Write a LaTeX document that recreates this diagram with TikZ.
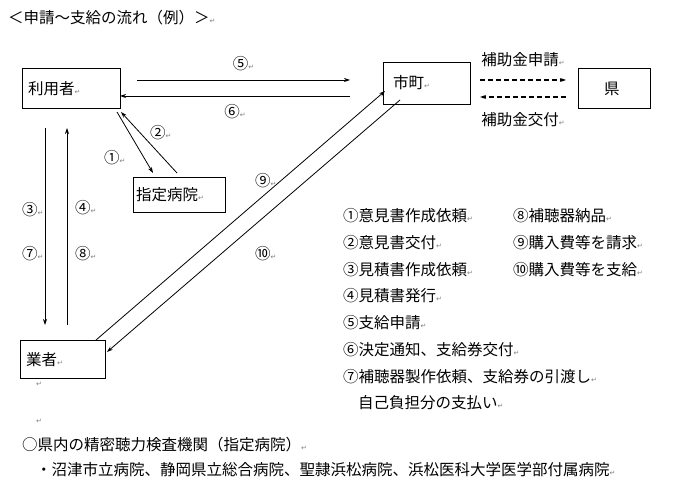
\documentclass[tikz,border=0pt]{standalone}
\usepackage{fontspec}
\setmainfont{Noto Sans CJK JP}
\newfontfamily\markfont{DejaVu Sans}
\usetikzlibrary{positioning,arrows.meta}
\newcommand{\ret}{{\markfont\color{gray}\fontsize{7}{7}\selectfont ↵}}
\begin{document}
\begin{tikzpicture}[x=1pt,y=-1pt,font=\fontsize{15.5}{17}\selectfont,
    box/.style={draw,thick,minimum height=40pt,anchor=north west,inner sep=0pt},
    lbl/.style={anchor=west,inner sep=0pt},
    flow/.style={-{Stealth[length=6pt,width=4pt]},line width=0.8pt}]
  \useasboundingbox (0,0) rectangle (690,497);
  \node[lbl] (title) at (8,18) {＜申請～支給の流れ（例）＞\ret};
  % boxes
  \node[box,minimum width=98pt] (user) at (22,68) {};
  \node[lbl] at (28,89) {利用者\ret};
  \node[box,minimum width=87pt,minimum height=42pt] (town) at (383,62) {};
  \node[lbl] at (393,83) {市町\ret};
  \node[box,minimum width=72pt] (pref) at (578,68) {};
  \node[lbl] at (604,89) {県};
  \node[box,minimum width=92pt,minimum height=35pt] (hosp) at (133,177) {};
  \node[lbl] at (136,195) {指定病院\ret};
  \node[box,minimum width=85pt,minimum height=38pt] (shop) at (20,340) {};
  \node[lbl] at (26,360) {業者\ret};
  % connectors
  \coordinate (u5) at (137,80); \coordinate (t5) at (350,80);
  \coordinate (t6) at (350,96); \coordinate (u6) at (120,96);
  \draw[flow] (u5) -- (t5) node[midway,above=5pt] {⑤\ret};
  \draw[flow] (t6) -- (u6) node[midway,below=5pt] {⑥\ret};
  \coordinate (ta) at (480,80); \coordinate (pa) at (566,80);
  \coordinate (pb) at (566,97); \coordinate (tb) at (480,97);
  \draw[flow,dash pattern=on 5pt off 3pt,line width=1.2pt] (ta) -- (pa) node[midway,above=9pt] {補助金申請\ret};
  \draw[flow,dash pattern=on 5pt off 3pt,line width=1.2pt] (pb) -- (tb) node[midway,below=12pt] {補助金交付\ret};
  \coordinate (u1) at (117,112); \coordinate (h1) at (153,173);
  \coordinate (h2) at (177,173); \coordinate (u2) at (121,112);
  \draw[flow] (u1) -- (h1);
  \draw[flow] (h2) -- (u2);
  \node[lbl] (n1) at (104,158) {①\ret};
  \node[lbl] (n2) at (150,133) {②\ret};
  \coordinate (u3) at (45,128); \coordinate (s3) at (45,325);
  \coordinate (s4) at (67,325); \coordinate (u4) at (67,128);
  \draw[flow] (u3) -- (s3);
  \draw[flow] (s4) -- (u4);
  \node[lbl] at (22,210) {③\ret};
  \node[lbl] at (22,254) {⑦\ret};
  \node[lbl] at (75,208) {④\ret};
  \node[lbl] at (75,254) {⑧\ret};
  \coordinate (s9) at (96,340); \coordinate (t9) at (385,91);
  \coordinate (t10) at (400,100); \coordinate (s10) at (107,352);
  \draw[flow] (s9) -- (t9);
  \draw[flow] (t10) -- (s10);
  \node[lbl] at (255,181) {⑨\ret};
  \node[lbl] at (255,254) {⑩\ret};
  % list
  \foreach \t [count=\i] in {①意見書作成依頼,②意見書交付,③見積書作成依頼,④見積書発行,⑤支給申請,⑥決定通知、支給券交付,⑦補聴器製作依頼、支給券の引渡し}
    \node[lbl] at (343,{216+(\i-1)*26.7}) {\t\ret};
  \node[lbl] at (358,403) {自己負担分の支払い\ret};
  \foreach \t [count=\i] in {⑧補聴器納品,⑨購入費等を請求,⑩購入費等を支給}
    \node[lbl] at (513,{216+(\i-1)*26.7}) {\t\ret};
  \node[lbl] at (36,384) {\ret};
  \node[lbl] at (36,421) {\ret};
  \node[lbl] at (22,445) {○県内の精密聴力検査機関（指定病院）\ret};
  \node[lbl] at (36,470) {・沼津市立病院、静岡県立総合病院、聖隷浜松病院、浜松医科大学医学部付属病院\ret};
\end{tikzpicture}
\end{document}
